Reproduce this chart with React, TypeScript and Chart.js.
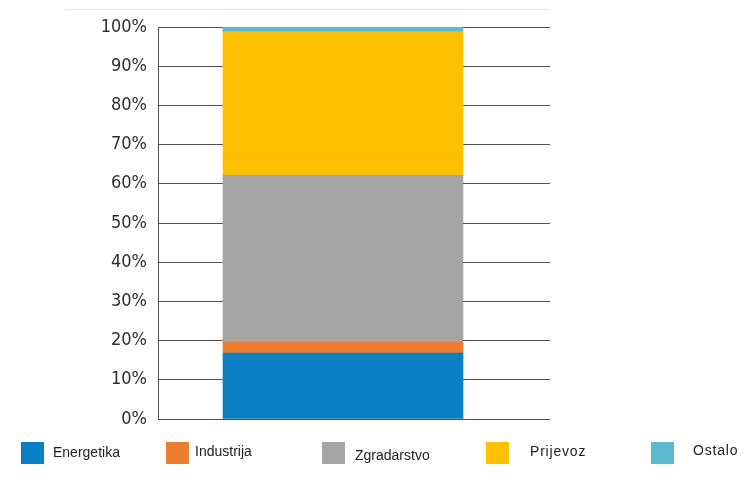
import React, { useEffect, useRef } from "react";
import { Chart, registerables } from "chart.js";

Chart.register(...registerables);

const categories = ["Emisije"];
const seriesNames = ["Energetika", "Industrija", "Zgradarstvo", "Prijevoz", "Ostalo"];
const seriesValues = [16.8, 2.8, 42.6, 36.6, 1.2];
const seriesColors = ["#0B7FC4", "#EC7C30", "#A5A5A5", "#FFC000", "#5CB8CC"];
const yTicks = [0, 10, 20, 30, 40, 50, 60, 70, 80, 90, 100];

// legend placement (layout only)
const legendBoxX = [21, 166, 322, 486, 651];
const legendTextX = [53, 195, 355, 530, 693];
const legendTextY = [452, 451, 455, 451, 450];

const gridColor = "#505050";

const gridExtend = {
  id: "gridExtend",
  afterDraw(chart: any) {
    const y = chart.scales.y;
    const ctx = chart.ctx;
    const right = chart.chartArea.right;
    ctx.save();
    ctx.strokeStyle = gridColor;
    ctx.lineWidth = 1;
    y.ticks.forEach((t: any) => {
      const p = y.getPixelForValue(t.value);
      const py = Math.round(p - 0.5) + 0.5;
      ctx.beginPath();
      ctx.moveTo(right - 1, py);
      ctx.lineTo(right + 22, py);
      ctx.stroke();
    });
    ctx.restore();
  },
};

export default function App() {
  const ref = useRef<HTMLCanvasElement>(null);
  useEffect(() => {
    document.body.style.margin = "0";
    const chart = new Chart(ref.current!, {
      type: "bar",
      data: {
        labels: categories,
        datasets: seriesNames.map((n, i) => ({
          label: n,
          data: [seriesValues[i]],
          backgroundColor: seriesColors[i],
          borderWidth: 0,
          barThickness: 240,
        })),
      },
      options: {
        animation: false,
        responsive: false,
        layout: { padding: { top: 27, bottom: 60, right: 218, left: 0 } },
        plugins: { legend: { display: false }, tooltip: { enabled: false } },
        scales: {
          x: { stacked: true, display: false, offset: true },
          y: {
            stacked: true,
            min: 0,
            max: 100,
            afterFit(axis: any) {
              axis.width = 158;
            },
            afterBuildTicks(axis: any) {
              axis.ticks = yTicks.map((v) => ({ value: v }));
            },
            grid: { color: gridColor, lineWidth: 1, drawTicks: false, z: -1 },
            border: { display: true, color: gridColor, width: 1 },
            ticks: {
              padding: 11,
              color: "#2e2e2e",
              font: { family: "'DejaVu Sans Condensed', 'DejaVu Sans', sans-serif", size: 18 },
              callback: (v: any) => v + "%",
            },
          },
        },
      },
      plugins: [gridExtend],
    });
    return () => chart.destroy();
  }, []);

  return (
    <div style={{ position: "relative", width: 746, height: 479, background: "#fff", overflow: "hidden" }}>
      <div style={{ position: "absolute", left: 65, top: 9, width: 485, height: 1, background: "#e6e6e6" }} />
      <canvas ref={ref} width={746} height={479} style={{ position: "absolute", left: 0, top: 0 }} />
      {seriesNames.map((n, i) => (
        <React.Fragment key={n}>
          <div
            style={{
              position: "absolute",
              left: legendBoxX[i],
              top: 442,
              width: 23,
              height: 22,
              background: seriesColors[i],
            }}
          />
          <div
            style={{
              position: "absolute",
              left: legendTextX[i],
              top: legendTextY[i] - 9,
              fontFamily: "'Liberation Sans', Arial, sans-serif",
              fontSize: 14,
              lineHeight: "18px",
              color: "#222",
              letterSpacing: i >= 3 ? "0.8px" : "0px",
              whiteSpace: "nowrap",
            }}
          >
            {n}
          </div>
        </React.Fragment>
      ))}
    </div>
  );
}
